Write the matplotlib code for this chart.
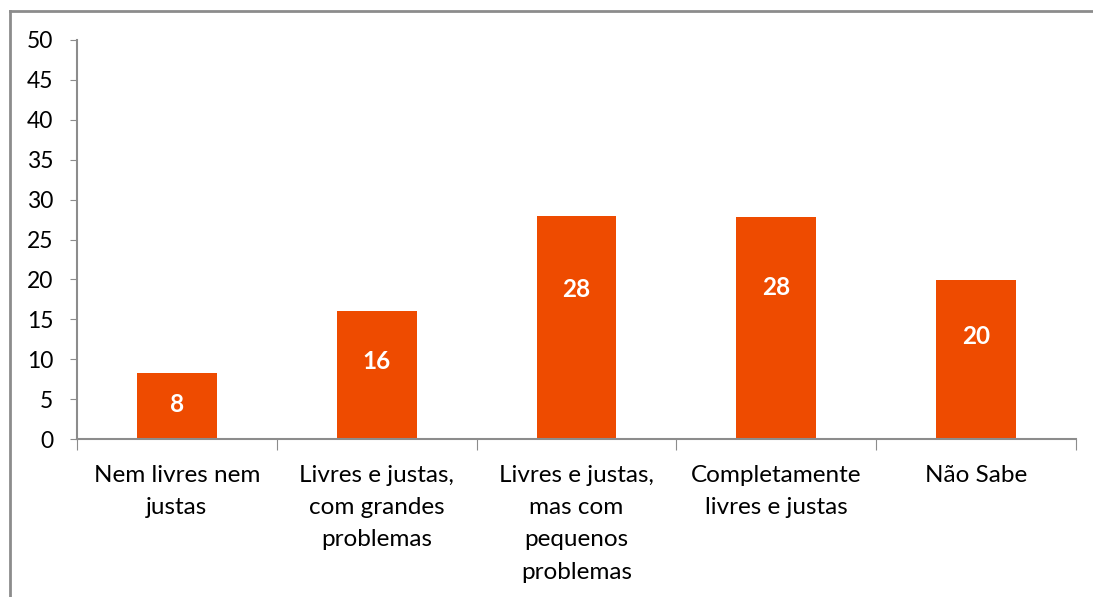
import matplotlib
matplotlib.use("Agg")
import matplotlib.pyplot as plt
from matplotlib.lines import Line2D
import numpy as np

# Datos
categorias = ["Nem livres nem\njustas",
              "Livres e justas,\ncom grandes\nproblemas",
              "Livres e justas,\nmas com\npequenos\nproblemas",
              "Completamente\nlivres e justas",
              "Não Sabe"]
valores = [8.3, 16.1, 27.9, 27.8, 19.9]
etiquetas = ["8", "16", "28", "28", "20"]

# Posición vertical de las etiquetas (unidades del eje)
pos_etiquetas = [4.3, 9.7, 18.7, 19.0, 12.8]

color_barra = "#EE4B00"
gris = "#8C8C8C"

fig = plt.figure(figsize=(10.93, 5.97), dpi=100)
ax = fig.add_axes([77 / 1093, 1 - 439 / 597, (1076 - 77) / 1093, (439 - 40) / 597])

x = np.arange(len(categorias))
ax.bar(x, valores, width=0.4, color=color_barra, zorder=2)

for xi, yi, txt in zip(x, pos_etiquetas, etiquetas):
    ax.text(xi, yi, txt, ha="center", va="center", color="white",
            fontsize=17.5, fontweight="bold", family="Lato")

ax.set_xlim(-0.5, len(categorias) - 0.5)
ax.set_ylim(0, 50)
ax.set_yticks(range(0, 51, 5))
ax.tick_params(axis="y", labelsize=16.5, length=5, color=gris, pad=12)
for lbl in ax.get_yticklabels():
    lbl.set_family("Lato")

# Ticks del eje x entre categorías
ax.set_xticks(np.arange(-0.5, len(categorias), 1.0))
ax.set_xticklabels([])
ax.set_xticks(x, minor=True)
ax.set_xticklabels(categorias, minor=True, fontsize=17.5, family="Lato", linespacing=1.65)
ax.tick_params(axis="x", which="major", length=8, color=gris)
ax.tick_params(axis="x", which="minor", length=0, pad=19)
for lbl in ax.get_xticklabels(minor=True):
    lbl.set_va("top")

for s in ["top", "right"]:
    ax.spines[s].set_visible(False)
for s in ["left", "bottom"]:
    ax.spines[s].set_color(gris)
    ax.spines[s].set_linewidth(1.5)

# Marco exterior
fig.add_artist(Line2D([9.5 / 1093, 9.5 / 1093], [0, 1 - 11 / 597], color=gris, lw=2))
fig.add_artist(Line2D([9.5 / 1093, 1], [1 - 11 / 597, 1 - 11 / 597], color=gris, lw=2))

fig.savefig("out.png", dpi=100)
